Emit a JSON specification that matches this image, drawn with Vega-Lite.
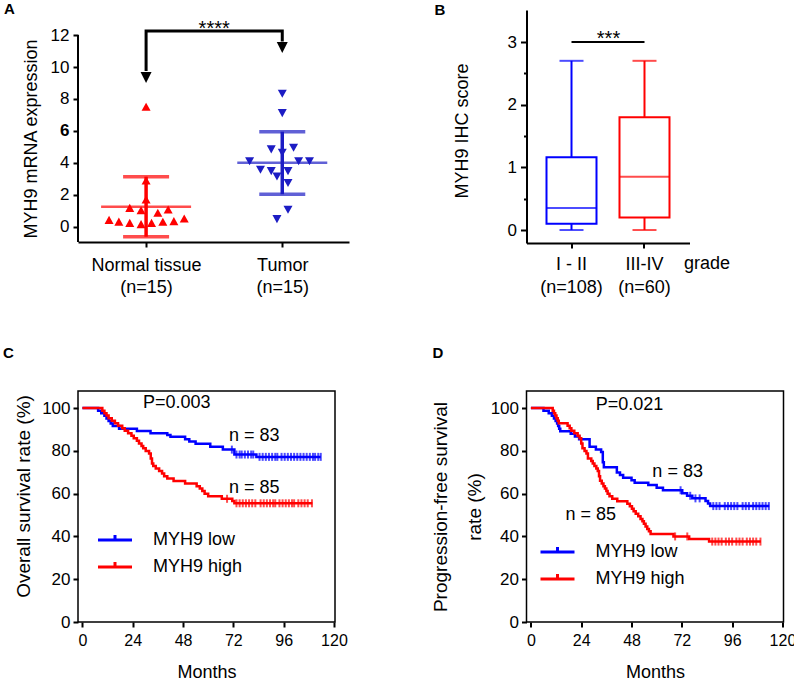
{
  "$schema": "https://vega.github.io/schema/vega-lite/v6.json",
  "padding": {"left": 2, "top": 2, "right": 0, "bottom": 0},
  "background": "#ffffff",
  "config": {
    "font": "Liberation Sans",
    "view": {"stroke": null},
    "axis": {"domainColor": "#000", "tickColor": "#000", "labelColor": "#000", "titleColor": "#000", "grid": false, "titleFontWeight": "normal", "labelFontSize": 17, "titleFontSize": 18, "domainWidth": 2, "tickWidth": 2, "labelFont": "Liberation Sans", "titleFont": "Liberation Sans", "labelOverlap": false},
    "title": {"color": "#000", "font": "Liberation Sans"},
    "text": {"font": "Liberation Sans", "color": "#000"}
  },
  "datasets": {
    "scatterA": [
      {"group": "Normal tissue", "pos": 1.0, "value": 7.48},
      {"group": "Normal tissue", "pos": 1.0, "value": 2.86},
      {"group": "Normal tissue", "pos": 1.0, "value": 1.67},
      {"group": "Normal tissue", "pos": 0.88, "value": 1.15},
      {"group": "Normal tissue", "pos": 0.963, "value": 1.0},
      {"group": "Normal tissue", "pos": 1.162, "value": 1.05},
      {"group": "Normal tissue", "pos": 1.086, "value": 0.84},
      {"group": "Normal tissue", "pos": 0.728, "value": 0.4},
      {"group": "Normal tissue", "pos": 0.8, "value": 0.29},
      {"group": "Normal tissue", "pos": 0.88, "value": 0.21},
      {"group": "Normal tissue", "pos": 0.963, "value": 0.13},
      {"group": "Normal tissue", "pos": 1.04, "value": 0.21},
      {"group": "Normal tissue", "pos": 1.123, "value": 0.28},
      {"group": "Normal tissue", "pos": 1.204, "value": 0.32},
      {"group": "Normal tissue", "pos": 1.28, "value": 0.48},
      {"group": "Tumor", "pos": 2.0, "value": 8.35},
      {"group": "Tumor", "pos": 2.0, "value": 7.14},
      {"group": "Tumor", "pos": 1.919, "value": 4.87},
      {"group": "Tumor", "pos": 2.083, "value": 4.97},
      {"group": "Tumor", "pos": 2.0, "value": 4.66},
      {"group": "Tumor", "pos": 1.76, "value": 4.13},
      {"group": "Tumor", "pos": 2.12, "value": 4.13},
      {"group": "Tumor", "pos": 2.2, "value": 4.13},
      {"group": "Tumor", "pos": 1.84, "value": 3.59},
      {"group": "Tumor", "pos": 1.919, "value": 3.51},
      {"group": "Tumor", "pos": 1.961, "value": 3.17},
      {"group": "Tumor", "pos": 2.042, "value": 3.51},
      {"group": "Tumor", "pos": 2.042, "value": 2.76},
      {"group": "Tumor", "pos": 2.042, "value": 1.09},
      {"group": "Tumor", "pos": 1.961, "value": 0.5}
    ],
    "statsA": [
      {"group": "Normal tissue", "pos": 1, "mean": 1.25, "lo": -0.63, "hi": 3.13},
      {"group": "Tumor", "pos": 2, "mean": 4.0, "lo": 2.03, "hi": 5.95}
    ],
    "axisLineA": [{"pos": 0.5, "lo": -0.96, "hi": 12}],
    "bracketA": [
      {"pos": 1, "y": 9.75, "ord": 1},
      {"pos": 1, "y": 12.25, "ord": 2},
      {"pos": 2, "y": 12.25, "ord": 3},
      {"pos": 2, "y": 11.6, "ord": 4}
    ],
    "arrowsA": [
      {"pos": 1, "y": 9.34},
      {"pos": 2, "y": 11.22}
    ],
    "sigA": [{"pos": 1.5, "y": 12.03, "label": "****"}],
    "boxB": [
      {"grade": "I - II", "min": 0, "q1": 0.1, "median": 0.35, "q3": 1.16, "max": 2.7},
      {"grade": "III-IV", "min": 0, "q1": 0.2, "median": 0.85, "q3": 1.8, "max": 2.7}
    ],
    "sigB": [{"a": "I - II", "b": "III-IV", "y": 3.0, "ty": 2.955, "label": "***"}],
    "kmC": [
      {"grp": "MYH9 low", "t": 0, "s": 100},
      {"grp": "MYH9 low", "t": 7.5, "s": 98.8},
      {"grp": "MYH9 low", "t": 9, "s": 97.6},
      {"grp": "MYH9 low", "t": 10.5, "s": 96.4},
      {"grp": "MYH9 low", "t": 11.5, "s": 95.2},
      {"grp": "MYH9 low", "t": 12.5, "s": 94.0},
      {"grp": "MYH9 low", "t": 13.5, "s": 92.8},
      {"grp": "MYH9 low", "t": 14.5, "s": 91.6},
      {"grp": "MYH9 low", "t": 17.5, "s": 90.4},
      {"grp": "MYH9 low", "t": 26, "s": 89.3},
      {"grp": "MYH9 low", "t": 32.5, "s": 88.2},
      {"grp": "MYH9 low", "t": 40.5, "s": 87.4},
      {"grp": "MYH9 low", "t": 42, "s": 86.6},
      {"grp": "MYH9 low", "t": 49, "s": 85.5},
      {"grp": "MYH9 low", "t": 51, "s": 84.4},
      {"grp": "MYH9 low", "t": 54, "s": 83.3},
      {"grp": "MYH9 low", "t": 61, "s": 81.9},
      {"grp": "MYH9 low", "t": 67, "s": 80.6},
      {"grp": "MYH9 low", "t": 72.5, "s": 78.3},
      {"grp": "MYH9 low", "t": 83, "s": 77.2},
      {"grp": "MYH9 low", "t": 113.7, "s": 77.2},
      {"grp": "MYH9 high", "t": 0, "s": 100},
      {"grp": "MYH9 high", "t": 9.5, "s": 98.8},
      {"grp": "MYH9 high", "t": 10.5, "s": 97.6},
      {"grp": "MYH9 high", "t": 11.5, "s": 96.5},
      {"grp": "MYH9 high", "t": 12.5, "s": 95.3},
      {"grp": "MYH9 high", "t": 14, "s": 94.1},
      {"grp": "MYH9 high", "t": 15.5, "s": 92.9},
      {"grp": "MYH9 high", "t": 17, "s": 91.8},
      {"grp": "MYH9 high", "t": 19, "s": 90.6},
      {"grp": "MYH9 high", "t": 20.2, "s": 89.4},
      {"grp": "MYH9 high", "t": 21.8, "s": 88.2},
      {"grp": "MYH9 high", "t": 23.4, "s": 87.1},
      {"grp": "MYH9 high", "t": 24.5, "s": 85.9},
      {"grp": "MYH9 high", "t": 26, "s": 84.7},
      {"grp": "MYH9 high", "t": 27, "s": 83.5},
      {"grp": "MYH9 high", "t": 28.2, "s": 82.3},
      {"grp": "MYH9 high", "t": 29, "s": 81.2},
      {"grp": "MYH9 high", "t": 30.2, "s": 80.0},
      {"grp": "MYH9 high", "t": 31.8, "s": 78.8},
      {"grp": "MYH9 high", "t": 32.6, "s": 76.5},
      {"grp": "MYH9 high", "t": 33.2, "s": 74.1},
      {"grp": "MYH9 high", "t": 33.8, "s": 72.9},
      {"grp": "MYH9 high", "t": 35, "s": 71.8},
      {"grp": "MYH9 high", "t": 36.6, "s": 70.6},
      {"grp": "MYH9 high", "t": 38, "s": 69.4},
      {"grp": "MYH9 high", "t": 39, "s": 68.2},
      {"grp": "MYH9 high", "t": 40.5, "s": 67.1},
      {"grp": "MYH9 high", "t": 43.5, "s": 65.9},
      {"grp": "MYH9 high", "t": 49, "s": 64.7},
      {"grp": "MYH9 high", "t": 54.5, "s": 63.5},
      {"grp": "MYH9 high", "t": 56, "s": 62.4},
      {"grp": "MYH9 high", "t": 57.2, "s": 61.2},
      {"grp": "MYH9 high", "t": 58.3, "s": 60.0},
      {"grp": "MYH9 high", "t": 60, "s": 58.8},
      {"grp": "MYH9 high", "t": 66.5, "s": 57.6},
      {"grp": "MYH9 high", "t": 71.5, "s": 56.6},
      {"grp": "MYH9 high", "t": 72.5, "s": 55.5},
      {"grp": "MYH9 high", "t": 109.7, "s": 55.5}
    ],
    "censC": [
      {"grp": "MYH9 low", "t": 71.3, "s": 80.6},
      {"grp": "MYH9 low", "t": 73.5, "s": 78.3},
      {"grp": "MYH9 low", "t": 75, "s": 78.3},
      {"grp": "MYH9 low", "t": 76, "s": 78.3},
      {"grp": "MYH9 low", "t": 77.5, "s": 78.3},
      {"grp": "MYH9 low", "t": 79, "s": 78.3},
      {"grp": "MYH9 low", "t": 80.5, "s": 78.3},
      {"grp": "MYH9 low", "t": 81.5, "s": 78.3},
      {"grp": "MYH9 low", "t": 84.5, "s": 77.2},
      {"grp": "MYH9 low", "t": 86, "s": 77.2},
      {"grp": "MYH9 low", "t": 87.5, "s": 77.2},
      {"grp": "MYH9 low", "t": 89, "s": 77.2},
      {"grp": "MYH9 low", "t": 90.5, "s": 77.2},
      {"grp": "MYH9 low", "t": 92, "s": 77.2},
      {"grp": "MYH9 low", "t": 93, "s": 77.2},
      {"grp": "MYH9 low", "t": 95, "s": 77.2},
      {"grp": "MYH9 low", "t": 96.5, "s": 77.2},
      {"grp": "MYH9 low", "t": 98, "s": 77.2},
      {"grp": "MYH9 low", "t": 99.5, "s": 77.2},
      {"grp": "MYH9 low", "t": 101, "s": 77.2},
      {"grp": "MYH9 low", "t": 102.5, "s": 77.2},
      {"grp": "MYH9 low", "t": 104, "s": 77.2},
      {"grp": "MYH9 low", "t": 105.5, "s": 77.2},
      {"grp": "MYH9 low", "t": 107, "s": 77.2},
      {"grp": "MYH9 low", "t": 108.5, "s": 77.2},
      {"grp": "MYH9 low", "t": 110, "s": 77.2},
      {"grp": "MYH9 low", "t": 111, "s": 77.2},
      {"grp": "MYH9 low", "t": 112.5, "s": 77.2},
      {"grp": "MYH9 low", "t": 113.7, "s": 77.2},
      {"grp": "MYH9 high", "t": 69, "s": 57.6},
      {"grp": "MYH9 high", "t": 73.5, "s": 55.5},
      {"grp": "MYH9 high", "t": 75, "s": 55.5},
      {"grp": "MYH9 high", "t": 76.5, "s": 55.5},
      {"grp": "MYH9 high", "t": 78, "s": 55.5},
      {"grp": "MYH9 high", "t": 79.5, "s": 55.5},
      {"grp": "MYH9 high", "t": 81, "s": 55.5},
      {"grp": "MYH9 high", "t": 82.5, "s": 55.5},
      {"grp": "MYH9 high", "t": 85, "s": 55.5},
      {"grp": "MYH9 high", "t": 86.5, "s": 55.5},
      {"grp": "MYH9 high", "t": 88, "s": 55.5},
      {"grp": "MYH9 high", "t": 89.5, "s": 55.5},
      {"grp": "MYH9 high", "t": 91, "s": 55.5},
      {"grp": "MYH9 high", "t": 92, "s": 55.5},
      {"grp": "MYH9 high", "t": 94, "s": 55.5},
      {"grp": "MYH9 high", "t": 95.5, "s": 55.5},
      {"grp": "MYH9 high", "t": 97, "s": 55.5},
      {"grp": "MYH9 high", "t": 98.5, "s": 55.5},
      {"grp": "MYH9 high", "t": 100, "s": 55.5},
      {"grp": "MYH9 high", "t": 101, "s": 55.5},
      {"grp": "MYH9 high", "t": 103, "s": 55.5},
      {"grp": "MYH9 high", "t": 104.5, "s": 55.5},
      {"grp": "MYH9 high", "t": 106, "s": 55.5},
      {"grp": "MYH9 high", "t": 107.5, "s": 55.5},
      {"grp": "MYH9 high", "t": 109.5, "s": 55.5}
    ],
    "textC": [
      {"label": "P=0.003", "t": 45, "s": 102.4},
      {"label": "n = 83", "t": 82, "s": 87.1},
      {"label": "n = 85", "t": 82, "s": 62.5}
    ],
    "kmD": [
      {"grp": "MYH9 low", "t": 0, "s": 100},
      {"grp": "MYH9 low", "t": 6, "s": 98.8},
      {"grp": "MYH9 low", "t": 8.5, "s": 97.6},
      {"grp": "MYH9 low", "t": 10, "s": 96.4},
      {"grp": "MYH9 low", "t": 11, "s": 95.2},
      {"grp": "MYH9 low", "t": 11.8, "s": 94.0},
      {"grp": "MYH9 low", "t": 12.5, "s": 92.8},
      {"grp": "MYH9 low", "t": 13, "s": 91.6},
      {"grp": "MYH9 low", "t": 13.5, "s": 90.4},
      {"grp": "MYH9 low", "t": 14, "s": 89.2},
      {"grp": "MYH9 low", "t": 19, "s": 88.0},
      {"grp": "MYH9 low", "t": 21, "s": 86.7},
      {"grp": "MYH9 low", "t": 23, "s": 85.5},
      {"grp": "MYH9 low", "t": 28, "s": 81.9},
      {"grp": "MYH9 low", "t": 31, "s": 80.7},
      {"grp": "MYH9 low", "t": 33.5, "s": 79.5},
      {"grp": "MYH9 low", "t": 34.3, "s": 74.7},
      {"grp": "MYH9 low", "t": 34.8, "s": 72.3},
      {"grp": "MYH9 low", "t": 41, "s": 69.9},
      {"grp": "MYH9 low", "t": 42.5, "s": 68.7},
      {"grp": "MYH9 low", "t": 44, "s": 67.5},
      {"grp": "MYH9 low", "t": 48, "s": 66.3},
      {"grp": "MYH9 low", "t": 49.5, "s": 65.1},
      {"grp": "MYH9 low", "t": 56, "s": 64.0},
      {"grp": "MYH9 low", "t": 60, "s": 62.8},
      {"grp": "MYH9 low", "t": 63, "s": 61.6},
      {"grp": "MYH9 low", "t": 72.2, "s": 60.2},
      {"grp": "MYH9 low", "t": 74.5, "s": 59.0},
      {"grp": "MYH9 low", "t": 77, "s": 57.8},
      {"grp": "MYH9 low", "t": 83.3, "s": 56.6},
      {"grp": "MYH9 low", "t": 84.5, "s": 55.4},
      {"grp": "MYH9 low", "t": 85.5, "s": 54.2},
      {"grp": "MYH9 low", "t": 113.7, "s": 54.2},
      {"grp": "MYH9 high", "t": 0, "s": 100},
      {"grp": "MYH9 high", "t": 10.4, "s": 98.8},
      {"grp": "MYH9 high", "t": 11, "s": 97.6},
      {"grp": "MYH9 high", "t": 11.6, "s": 96.5},
      {"grp": "MYH9 high", "t": 12.2, "s": 95.3},
      {"grp": "MYH9 high", "t": 12.8, "s": 94.1},
      {"grp": "MYH9 high", "t": 13.3, "s": 92.9},
      {"grp": "MYH9 high", "t": 17.5, "s": 91.8},
      {"grp": "MYH9 high", "t": 18.5, "s": 90.6},
      {"grp": "MYH9 high", "t": 19.3, "s": 89.4},
      {"grp": "MYH9 high", "t": 20.7, "s": 88.2},
      {"grp": "MYH9 high", "t": 22.3, "s": 87.1},
      {"grp": "MYH9 high", "t": 23.2, "s": 85.9},
      {"grp": "MYH9 high", "t": 24, "s": 83.5},
      {"grp": "MYH9 high", "t": 24.6, "s": 81.2},
      {"grp": "MYH9 high", "t": 25.6, "s": 80.0},
      {"grp": "MYH9 high", "t": 26.5, "s": 78.8},
      {"grp": "MYH9 high", "t": 27.2, "s": 76.5},
      {"grp": "MYH9 high", "t": 28.8, "s": 75.3},
      {"grp": "MYH9 high", "t": 29.5, "s": 74.1},
      {"grp": "MYH9 high", "t": 30.3, "s": 72.9},
      {"grp": "MYH9 high", "t": 31.2, "s": 71.8},
      {"grp": "MYH9 high", "t": 31.9, "s": 70.6},
      {"grp": "MYH9 high", "t": 32.5, "s": 68.2},
      {"grp": "MYH9 high", "t": 33, "s": 66.0},
      {"grp": "MYH9 high", "t": 33.8, "s": 64.7},
      {"grp": "MYH9 high", "t": 34.6, "s": 63.5},
      {"grp": "MYH9 high", "t": 35.3, "s": 62.4},
      {"grp": "MYH9 high", "t": 36, "s": 61.2},
      {"grp": "MYH9 high", "t": 36.6, "s": 60.0},
      {"grp": "MYH9 high", "t": 37.5, "s": 58.8},
      {"grp": "MYH9 high", "t": 38.8, "s": 57.6},
      {"grp": "MYH9 high", "t": 41.2, "s": 56.5},
      {"grp": "MYH9 high", "t": 46, "s": 55.3},
      {"grp": "MYH9 high", "t": 47.2, "s": 54.1},
      {"grp": "MYH9 high", "t": 48.2, "s": 52.9},
      {"grp": "MYH9 high", "t": 49, "s": 51.8},
      {"grp": "MYH9 high", "t": 50, "s": 50.6},
      {"grp": "MYH9 high", "t": 51.2, "s": 49.4},
      {"grp": "MYH9 high", "t": 52.3, "s": 48.2},
      {"grp": "MYH9 high", "t": 53.2, "s": 47.1},
      {"grp": "MYH9 high", "t": 53.9, "s": 45.9},
      {"grp": "MYH9 high", "t": 54.7, "s": 44.7},
      {"grp": "MYH9 high", "t": 55.5, "s": 43.5},
      {"grp": "MYH9 high", "t": 56.3, "s": 42.4},
      {"grp": "MYH9 high", "t": 57.1, "s": 41.2},
      {"grp": "MYH9 high", "t": 68, "s": 40.0},
      {"grp": "MYH9 high", "t": 75.5, "s": 38.8},
      {"grp": "MYH9 high", "t": 85, "s": 37.6},
      {"grp": "MYH9 high", "t": 109.7, "s": 37.6}
    ],
    "censD": [
      {"grp": "MYH9 low", "t": 71.4, "s": 61.6},
      {"grp": "MYH9 low", "t": 76, "s": 59.0},
      {"grp": "MYH9 low", "t": 78.5, "s": 57.8},
      {"grp": "MYH9 low", "t": 80.5, "s": 57.8},
      {"grp": "MYH9 low", "t": 87, "s": 54.2},
      {"grp": "MYH9 low", "t": 88.5, "s": 54.2},
      {"grp": "MYH9 low", "t": 90, "s": 54.2},
      {"grp": "MYH9 low", "t": 92.5, "s": 54.2},
      {"grp": "MYH9 low", "t": 94, "s": 54.2},
      {"grp": "MYH9 low", "t": 95.5, "s": 54.2},
      {"grp": "MYH9 low", "t": 97, "s": 54.2},
      {"grp": "MYH9 low", "t": 98.5, "s": 54.2},
      {"grp": "MYH9 low", "t": 101, "s": 54.2},
      {"grp": "MYH9 low", "t": 102.5, "s": 54.2},
      {"grp": "MYH9 low", "t": 104, "s": 54.2},
      {"grp": "MYH9 low", "t": 106, "s": 54.2},
      {"grp": "MYH9 low", "t": 107.5, "s": 54.2},
      {"grp": "MYH9 low", "t": 109, "s": 54.2},
      {"grp": "MYH9 low", "t": 110.5, "s": 54.2},
      {"grp": "MYH9 low", "t": 112, "s": 54.2},
      {"grp": "MYH9 low", "t": 113.5, "s": 54.2},
      {"grp": "MYH9 high", "t": 68.8, "s": 40.0},
      {"grp": "MYH9 high", "t": 74.6, "s": 40.0},
      {"grp": "MYH9 high", "t": 86.5, "s": 37.6},
      {"grp": "MYH9 high", "t": 88, "s": 37.6},
      {"grp": "MYH9 high", "t": 89.5, "s": 37.6},
      {"grp": "MYH9 high", "t": 91, "s": 37.6},
      {"grp": "MYH9 high", "t": 93, "s": 37.6},
      {"grp": "MYH9 high", "t": 94.5, "s": 37.6},
      {"grp": "MYH9 high", "t": 96, "s": 37.6},
      {"grp": "MYH9 high", "t": 98, "s": 37.6},
      {"grp": "MYH9 high", "t": 99.5, "s": 37.6},
      {"grp": "MYH9 high", "t": 101, "s": 37.6},
      {"grp": "MYH9 high", "t": 103, "s": 37.6},
      {"grp": "MYH9 high", "t": 104.5, "s": 37.6},
      {"grp": "MYH9 high", "t": 106, "s": 37.6},
      {"grp": "MYH9 high", "t": 107.5, "s": 37.6},
      {"grp": "MYH9 high", "t": 109.5, "s": 37.6}
    ],
    "textD": [
      {"label": "P=0.021", "t": 47, "s": 101.6},
      {"label": "n = 83", "t": 70, "s": 69.9},
      {"label": "n = 85", "t": 28.5, "s": 50}
    ]
  },
  "columns": 2,
  "bounds": "flush",
  "spacing": {"row": 148, "column": 177.5},
  "resolve": {"scale": {"color": "independent", "stroke": "independent", "shape": "independent"}, "legend": {"color": "independent"}},
  "concat": [
    {
      "width": 271,
      "height": 232,
      "title": {"text": "A", "anchor": "start", "frame": "group", "dx": -74, "offset": -19, "baseline": "alphabetic", "fontSize": 15, "fontWeight": "bold"},
      "resolve": {"axis": {"y": "independent"}},
      "layer": [
        {
          "data": {"name": "statsA"},
          "mark": {"type": "rule", "strokeWidth": 3.5},
          "encoding": {
            "x": {"field": "pos", "type": "quantitative", "scale": {"domain": [0.5, 2.49], "nice": false, "zero": false},
              "axis": {"values": [1, 2], "title": null, "tickSize": 5, "labelFontSize": 18, "labelPadding": 9, "labelLineHeight": 22, "labelExpr": "datum.value == 1 ? ['Normal tissue', '(n=15)'] : ['Tumor', '(n=15)']"}},
            "y": {"field": "lo", "type": "quantitative", "scale": {"domain": [-0.96, 13.57], "nice": false, "zero": false},
              "axis": {"values": [0, 4, 8, 12], "title": "MYH9 mRNA expression", "titleY": 128.5, "titlePadding": 10, "domain": false, "tickSize": 5, "labelPadding": 4, "orient": "left"}},
            "y2": {"field": "hi"},
            "color": {"field": "group", "type": "nominal", "scale": {"domain": ["Normal tissue", "Tumor"], "range": ["#ff0000", "#1c1cc4"]}, "legend": null}
          }
        },
        {
          "data": {"name": "axisLineA"},
          "mark": {"type": "rule", "strokeWidth": 2, "color": "#000"},
          "encoding": {
            "x": {"field": "pos", "type": "quantitative"},
            "y": {"field": "lo", "type": "quantitative",
              "axis": {"values": [2, 6, 10], "title": null, "domain": false, "tickSize": 5, "labelPadding": 4, "orient": "left", "labelFontWeight": {"condition": {"test": "datum.value == 6", "value": "bold"}, "value": "normal"}}},
            "y2": {"field": "hi"}
          }
        },
        {
          "data": {"name": "statsA"},
          "mark": {"type": "tick", "orient": "horizontal", "size": 90, "thickness": 2.5},
          "encoding": {
            "x": {"field": "pos", "type": "quantitative"},
            "y": {"field": "mean", "type": "quantitative", "axis": null},
            "color": {"field": "group", "type": "nominal", "legend": null}
          }
        },
        {
          "data": {"name": "statsA"},
          "mark": {"type": "tick", "orient": "horizontal", "size": 46, "thickness": 3.5},
          "encoding": {
            "x": {"field": "pos", "type": "quantitative"},
            "y": {"field": "lo", "type": "quantitative", "axis": null},
            "color": {"field": "group", "type": "nominal", "legend": null}
          }
        },
        {
          "data": {"name": "statsA"},
          "mark": {"type": "tick", "orient": "horizontal", "size": 46, "thickness": 3.5},
          "encoding": {
            "x": {"field": "pos", "type": "quantitative"},
            "y": {"field": "hi", "type": "quantitative", "axis": null},
            "color": {"field": "group", "type": "nominal", "legend": null}
          }
        },
        {
          "data": {"name": "scatterA"},
          "mark": {"type": "point", "filled": true, "opacity": 1, "size": 81},
          "encoding": {
            "x": {"field": "pos", "type": "quantitative"},
            "y": {"field": "value", "type": "quantitative", "axis": null},
            "color": {"field": "group", "type": "nominal", "legend": null},
            "shape": {"field": "group", "type": "nominal", "scale": {"domain": ["Normal tissue", "Tumor"], "range": ["M0,-1L1,0.8L-1,0.8Z", "M0,1L1,-0.8L-1,-0.8Z"]}, "legend": null}
          }
        },
        {
          "data": {"name": "bracketA"},
          "mark": {"type": "line", "color": "#000", "strokeWidth": 3, "strokeJoin": "miter"},
          "encoding": {
            "x": {"field": "pos", "type": "quantitative"},
            "y": {"field": "y", "type": "quantitative", "axis": null},
            "order": {"field": "ord", "type": "quantitative"}
          }
        },
        {
          "data": {"name": "arrowsA"},
          "mark": {"type": "point", "filled": true, "opacity": 1, "color": "#000", "size": 121, "shape": "M-1,-1L1,-1L0,1Z"},
          "encoding": {
            "x": {"field": "pos", "type": "quantitative"},
            "y": {"field": "y", "type": "quantitative", "axis": null}
          }
        },
        {
          "data": {"name": "sigA"},
          "mark": {"type": "text", "fontSize": 20, "baseline": "alphabetic", "align": "center", "color": "#000"},
          "encoding": {
            "x": {"field": "pos", "type": "quantitative"},
            "y": {"field": "y", "type": "quantitative", "axis": null},
            "text": {"field": "label"}
          }
        }
      ]
    },
    {
      "width": 163,
      "height": 233,
      "title": {"text": "B", "anchor": "start", "frame": "group", "dx": -92, "offset": -20, "baseline": "alphabetic", "fontSize": 15, "fontWeight": "bold"},
      "resolve": {"axis": {"y": "independent"}},
      "layer": [
        {
          "data": {"name": "boxB"},
          "mark": {"type": "rule", "strokeWidth": 2},
          "encoding": {
            "x": {"field": "grade", "type": "nominal", "scale": {"domain": ["I - II", "III-IV"], "paddingInner": 0.315, "paddingOuter": 0.274},
              "axis": {"title": "grade", "titleX": 157, "titleY": 25, "titleAlign": "left", "titleBaseline": "alphabetic", "titleAngle": 0, "labelAngle": 0, "tickSize": 5, "labelFontSize": 18, "labelPadding": 7, "labelLineHeight": 23, "labelExpr": "datum.value == 'I - II' ? ['I - II', '(n=108)'] : ['III-IV', '(n=60)']"}},
            "y": {"field": "min", "type": "quantitative", "scale": {"domain": [-0.207, 3.511], "nice": false, "zero": false},
              "axis": {"values": [0, 1, 2, 3], "title": "MYH9 IHC score", "titleY": 120.5, "titlePadding": 36, "tickSize": 6, "labelPadding": 4, "orient": "left"}},
            "y2": {"field": "max"},
            "color": {"field": "grade", "type": "nominal", "scale": {"domain": ["I - II", "III-IV"], "range": ["#0000ff", "#ff0000"]}, "legend": null}
          }
        },
        {
          "data": {"name": "boxB"},
          "mark": {"type": "bar", "fill": "#ffffff", "strokeWidth": 2},
          "encoding": {
            "x": {"field": "grade", "type": "nominal"},
            "y": {"field": "q1", "type": "quantitative", "axis": null},
            "y2": {"field": "q3"},
            "stroke": {"field": "grade", "type": "nominal", "scale": {"domain": ["I - II", "III-IV"], "range": ["#0000ff", "#ff0000"]}, "legend": null}
          }
        },
        {
          "data": {"name": "boxB"},
          "mark": {"type": "tick", "orient": "horizontal", "size": 50, "thickness": 2},
          "encoding": {
            "x": {"field": "grade", "type": "nominal"},
            "y": {"field": "median", "type": "quantitative", "axis": null},
            "color": {"field": "grade", "type": "nominal", "legend": null}
          }
        },
        {
          "data": {"name": "boxB"},
          "mark": {"type": "tick", "orient": "horizontal", "size": 24, "thickness": 2},
          "encoding": {
            "x": {"field": "grade", "type": "nominal"},
            "y": {"field": "max", "type": "quantitative", "axis": null},
            "color": {"field": "grade", "type": "nominal", "legend": null}
          }
        },
        {
          "data": {"name": "boxB"},
          "mark": {"type": "tick", "orient": "horizontal", "size": 24, "thickness": 2},
          "encoding": {
            "x": {"field": "grade", "type": "nominal"},
            "y": {"field": "min", "type": "quantitative", "axis": null},
            "color": {"field": "grade", "type": "nominal", "legend": null}
          }
        },
        {
          "data": {"name": "sigB"},
          "mark": {"type": "rule", "strokeWidth": 2, "color": "#000"},
          "encoding": {
            "x": {"field": "a", "type": "nominal"},
            "x2": {"field": "b"},
            "y": {"field": "y", "type": "quantitative",
              "axis": {"values": [0.5, 1.5, 2.5], "labels": false, "domain": false, "tickSize": 3, "title": null, "orient": "left"}}
          }
        },
        {
          "data": {"name": "sigB"},
          "mark": {"type": "text", "fontSize": 20, "baseline": "alphabetic", "align": "center", "dx": 37, "color": "#000"},
          "encoding": {
            "x": {"field": "a", "type": "nominal"},
            "y": {"field": "ty", "type": "quantitative", "axis": null},
            "text": {"field": "label"}
          }
        }
      ]
    },
    {
      "width": 257,
      "height": 231,
      "view": {"stroke": "#000", "strokeWidth": 1.5},
      "title": {"text": "C", "anchor": "start", "frame": "group", "dx": -75, "offset": 18, "baseline": "alphabetic", "fontSize": 15, "fontWeight": "bold"},
      "layer": [
        {
          "data": {"name": "kmC"},
          "mark": {"type": "line", "interpolate": "step-after", "strokeWidth": 2.5},
          "encoding": {
            "x": {"field": "t", "type": "quantitative", "scale": {"domain": [-2.1, 120.5], "nice": false, "zero": false},
              "axis": {"values": [0, 24, 48, 72, 96, 120], "title": "Months", "domain": false, "tickSize": 5, "labelFontSize": 16, "labelPadding": 5, "titlePadding": 15}},
            "y": {"field": "s", "type": "quantitative", "scale": {"domain": [0, 108], "nice": false, "zero": false},
              "axis": {"values": [0, 20, 40, 60, 80, 100], "title": "Overall survival rate (%)", "titleFontSize": 19, "titleY": 105, "domain": false, "tickSize": 5, "labelPadding": 3, "titlePadding": 8}},
            "color": {"field": "grp", "type": "nominal", "scale": {"domain": ["MYH9 low", "MYH9 high"], "range": ["#0000ff", "#ff0000"]},
              "legend": {"orient": "none", "legendX": 27, "legendY": 139, "title": null, "symbolType": "M-2,0H2M0,0V-0.6", "symbolSize": 289, "symbolStrokeWidth": 3, "labelFontSize": 18, "labelOffset": 28, "rowPadding": 6, "padding": 0, "labelColor": "#000"}}
          }
        },
        {
          "data": {"name": "censC"},
          "mark": {"type": "tick", "orient": "vertical", "size": 8, "thickness": 2},
          "encoding": {
            "x": {"field": "t", "type": "quantitative"},
            "y": {"field": "s", "type": "quantitative"},
            "color": {"field": "grp", "type": "nominal", "legend": null}
          }
        },
        {
          "data": {"name": "textC"},
          "mark": {"type": "text", "fontSize": 18, "baseline": "middle", "align": "center", "color": "#000"},
          "encoding": {
            "x": {"field": "t", "type": "quantitative"},
            "y": {"field": "s", "type": "quantitative"},
            "text": {"field": "label"}
          }
        }
      ]
    },
    {
      "width": 257,
      "height": 231,
      "view": {"stroke": "#000", "strokeWidth": 1.5},
      "title": {"text": "D", "anchor": "start", "frame": "group", "dx": -94, "offset": 18, "baseline": "alphabetic", "fontSize": 15, "fontWeight": "bold"},
      "layer": [
        {
          "data": {"name": "kmD"},
          "mark": {"type": "line", "interpolate": "step-after", "strokeWidth": 2.5},
          "encoding": {
            "x": {"field": "t", "type": "quantitative", "scale": {"domain": [-2.1, 120.5], "nice": false, "zero": false},
              "axis": {"values": [0, 24, 48, 72, 96, 120], "title": "Months", "domain": false, "tickSize": 5, "labelFontSize": 16, "labelPadding": 5, "titlePadding": 15, "labelFlush": true, "labelFlushOffset": 8}},
            "y": {"field": "s", "type": "quantitative", "scale": {"domain": [0, 108], "nice": false, "zero": false},
              "axis": {"values": [0, 20, 40, 60, 80, 100], "title": ["Progression-free survival", "rate (%)"], "titleFontSize": 19, "titleLineHeight": 34, "domain": false, "tickSize": 5, "labelPadding": 3, "titlePadding": 6}},
            "color": {"field": "grp", "type": "nominal", "scale": {"domain": ["MYH9 low", "MYH9 high"], "range": ["#0000ff", "#ff0000"]},
              "legend": {"orient": "none", "legendX": 21, "legendY": 151, "title": null, "symbolType": "M-2,0H2M0,0V-0.6", "symbolSize": 289, "symbolStrokeWidth": 3, "labelFontSize": 18, "labelOffset": 28, "rowPadding": 6, "padding": 0, "labelColor": "#000"}}
          }
        },
        {
          "data": {"name": "censD"},
          "mark": {"type": "tick", "orient": "vertical", "size": 8, "thickness": 2},
          "encoding": {
            "x": {"field": "t", "type": "quantitative"},
            "y": {"field": "s", "type": "quantitative"},
            "color": {"field": "grp", "type": "nominal", "legend": null}
          }
        },
        {
          "data": {"name": "textD"},
          "mark": {"type": "text", "fontSize": 18, "baseline": "middle", "align": "center", "color": "#000"},
          "encoding": {
            "x": {"field": "t", "type": "quantitative"},
            "y": {"field": "s", "type": "quantitative"},
            "text": {"field": "label"}
          }
        }
      ]
    }
  ]
}
